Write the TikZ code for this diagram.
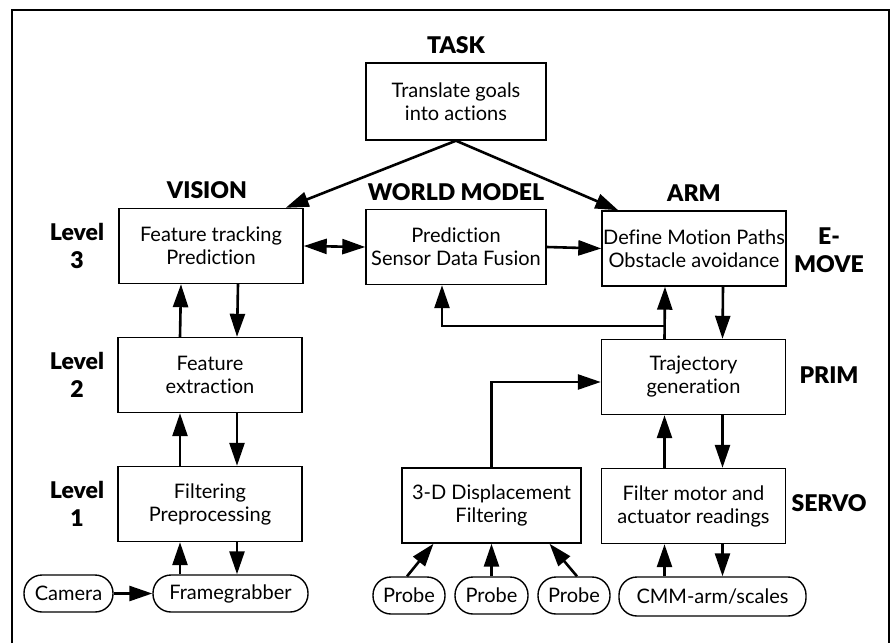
\documentclass[tikz,border=0pt]{standalone}
\usepackage{fontspec}
\setmainfont{Lato}[BoldFont={Lato Black},Ligatures=NoCommon]
\usetikzlibrary{arrows.meta}

\begin{document}
\begin{tikzpicture}[x=1pt,y=-1pt,
  box/.style={draw,line width=1.4pt,minimum width=184pt,minimum height=75pt,inner sep=1pt,align=center,font=\fontsize{20}{23}\selectfont},
  dev/.style={draw,line width=1.4pt,rounded corners=18pt,minimum height=37pt,inner sep=1pt,font=\fontsize{20}{23}\selectfont},
  head/.style={font=\fontsize{23}{28}\selectfont\bfseries,align=center},
  arr/.style={line width=2.6pt,-{Triangle[length=23pt,width=15pt]}}]
\newcommand{\upx}{-30pt}
\newcommand{\dnx}{27pt}
\useasboundingbox (0,0) rectangle (894,643);
\draw [line width=1.6pt] (12,643) -- (12,10) -- (889,10) -- (889,643);

% column heads and levels
\node [head] (taskhd) at (456,45) {TASK};
\node [head] (vishd) at (207,190) {VISION};
\node [head] (wmhd) at (456,192) {WORLD MODEL};
\node [head] (armhd) at (694,193) {ARM};
\node [head] (lev3) at (77,246) {Level\\3};
\node [head] (lev2) at (77,375) {Level\\2};
\node [head] (lev1) at (77,504) {Level\\1};
\node [head] (emove) at (829,250) {E-\\MOVE};
\node [head] (prim) at (829,375) {PRIM};
\node [head] (servo) at (829,503) {SERVO};

% boxes
\node [box,minimum width=180pt,minimum height=77pt] (task) at (456,101.5) {Translate goals\\into actions};
\node [box] (vis) at (211,246) {Feature tracking\\Prediction};
\node [box,minimum width=180pt] (wm) at (456,247) {Prediction\\Sensor Data Fusion};
\node [box] (arm) at (694,248.5) {Define Motion Paths\\Obstacle avoidance};
\node [box] (fext) at (210,375) {Feature\\extraction};
\node [box] (filt) at (210,504) {Filtering\\Preprocessing};
\node [box,minimum width=179pt] (disp) at (491.5,505.5) {3-D Displacement\\Filtering};
\node [box] (traj) at (693.5,377) {Trajectory\\generation};
\node [box] (fmot) at (693.5,506) {Filter motor and\\actuator readings};

% devices
\node [dev,minimum width=89pt] (cam) at (68.5,593.5) {Camera};
\node [dev,minimum width=155pt] (fg) at (230.5,593.5) {Framegrabber};
\node [dev,minimum width=72pt] (probea) at (409,595.5) {Probe};
\node [dev,minimum width=73pt] (probeb) at (491.5,595.5) {Probe};
\node [dev,minimum width=72pt] (probec) at (574,595.5) {Probe};
\node [dev,minimum width=187pt,minimum height=39pt] (cmm) at (712.5,596.5) {CMM-arm/scales};

% task level
\draw [arr] (task.south) -- ([xshift=-18pt]vis.north east);
\draw [arr] (task.south) -- ([xshift=17pt]arm.north west);
\draw [arr,{Triangle[length=23pt,width=15pt]}-{Triangle[length=23pt,width=15pt]}] (vis.east) -- (wm.west);
\draw [arr] (wm.east) -- (arm.west);

% vision column
\draw [arr] ([xshift=\upx]fext.north) -- ([xshift=\upx]vis.south);
\draw [arr] ([xshift=\dnx]vis.south) -- ([xshift=\dnx]fext.north);
\draw [arr] ([xshift=\upx]filt.north) -- ([xshift=\upx]fext.south);
\draw [arr] ([xshift=\dnx]fext.south) -- ([xshift=\dnx]filt.north);
\draw [arr] ([xshift=\upx]filt.south |- fg.north) -- ([xshift=\upx]filt.south);
\draw [arr] ([xshift=\dnx]filt.south) -- ([xshift=\dnx]filt.south |- fg.north);
\draw [arr] (cam.east) -- (fg.west);

% arm column
\coordinate (split) at ([xshift=-29pt,yshift=13pt]traj.north);
\draw [arr] ([xshift=-29pt]traj.north) -- ([xshift=-29pt]arm.south);
\draw [arr] (split) -| ([xshift=-14pt]wm.south);
\draw [arr] ([xshift=29pt]arm.south) -- ([xshift=29pt]traj.north);
\draw [arr] ([xshift=-29pt]fmot.north) -- ([xshift=-29pt]traj.south);
\draw [arr] ([xshift=29pt]traj.south) -- ([xshift=29pt]fmot.north);
\draw [arr] ([xshift=-29pt]fmot.south |- cmm.north) -- ([xshift=-29pt]fmot.south);
\draw [arr] ([xshift=29pt]fmot.south) -- ([xshift=29pt]fmot.south |- cmm.north);

% probes
\draw [arr] (disp.north) |- ([yshift=-5pt]traj.west);
\draw [arr] ([xshift=-2pt]probea.north) -- ([xshift=-58pt]disp.south);
\draw [arr] (probeb.north) -- (disp.south);
\draw [arr] ([xshift=3pt]probec.north) -- ([xshift=58pt]disp.south);
\end{tikzpicture}
\end{document}
